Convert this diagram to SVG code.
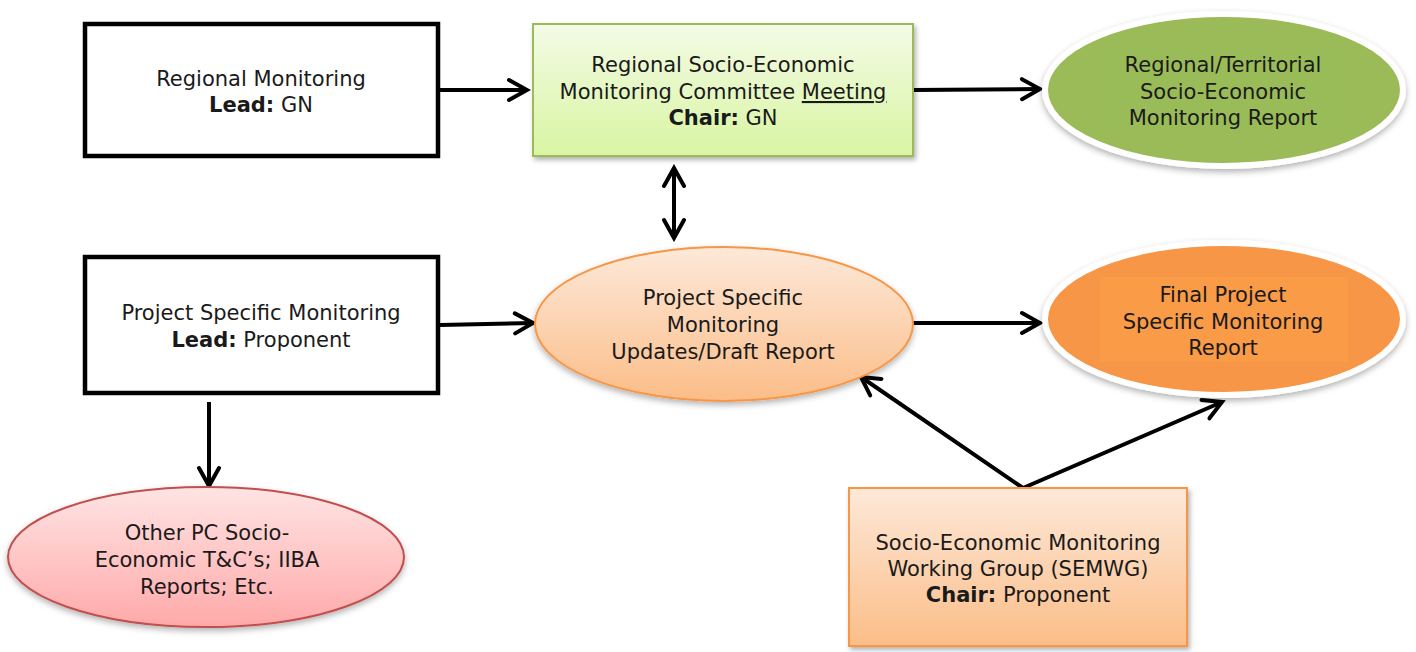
<svg xmlns="http://www.w3.org/2000/svg" width="1416" height="652" viewBox="0 0 1416 652">
<defs>
<style>
.t{font-family:"DejaVu Sans","Liberation Sans",sans-serif;font-size:21px;fill:#1a1a1a;text-anchor:middle}
.b{font-weight:bold}
.c{fill:none;stroke:#000;stroke-width:4}
.bx{fill:#fff;stroke:#000;stroke-width:4.5}
</style>
<linearGradient id="gGreen" x1="0" y1="0" x2="0" y2="1"><stop offset="0" stop-color="#f4fbe6"/><stop offset="1" stop-color="#d8f5a2"/></linearGradient>
<linearGradient id="gPeach" x1="0" y1="0" x2="0" y2="1"><stop offset="0" stop-color="#fde9d9"/><stop offset="1" stop-color="#fbbd88"/></linearGradient>
<linearGradient id="gPink" x1="0" y1="0" x2="0" y2="1"><stop offset="0" stop-color="#ffe4e4"/><stop offset="1" stop-color="#ffa9a9"/></linearGradient>
<filter id="sh" x="-10%" y="-10%" width="120%" height="130%"><feDropShadow dx="2" dy="3" stdDeviation="2.5" flood-color="#000" flood-opacity="0.3"/></filter>
<filter id="sh2" x="-10%" y="-15%" width="120%" height="135%"><feDropShadow dx="0" dy="3" stdDeviation="3" flood-color="#000" flood-opacity="0.3"/></filter>
<marker id="ar" viewBox="0 0 26 26" refX="22" refY="13" markerWidth="26" markerHeight="26" markerUnits="userSpaceOnUse" orient="auto-start-reverse">
<path d="M4,3 L22,13 L4,23" fill="none" stroke="#000" stroke-width="4" stroke-linecap="round" stroke-linejoin="miter"/>
</marker>
</defs>
<rect width="1416" height="652" fill="#fff"/>

<g id="connectors">
<line class="c" x1="440" y1="90" x2="527" y2="90" marker-end="url(#ar)"/>
<line class="c" x1="913" y1="90" x2="1040" y2="89" marker-end="url(#ar)"/>
<line class="c" x1="674" y1="168" x2="674" y2="238" marker-start="url(#ar)" marker-end="url(#ar)"/>
<line class="c" x1="440" y1="325" x2="533" y2="323" marker-end="url(#ar)"/>
<line class="c" x1="913" y1="323" x2="1040" y2="323" marker-end="url(#ar)"/>
<line class="c" x1="209" y1="402" x2="209" y2="486" marker-end="url(#ar)"/>
<polyline class="c" points="861,377 1023,488 1222,402" marker-start="url(#ar)" marker-end="url(#ar)"/>
</g>

<g id="regional-monitoring">
<rect class="bx" x="85" y="24" width="353" height="132"/>
<text class="t" x="261" y="86">Regional Monitoring</text>
<text class="t" x="261" y="112"><tspan class="b">Lead:</tspan> GN</text>
</g>

<g id="committee-meeting">
<rect x="533" y="24" width="380" height="132" fill="url(#gGreen)" stroke="#9bbb59" stroke-width="2" filter="url(#sh)"/>
<text class="t" x="723" y="72">Regional Socio-Economic</text>
<text class="t" x="723" y="99">Monitoring Committee <tspan text-decoration="underline">Meeting</tspan></text>
<text class="t" x="723" y="125"><tspan class="b">Chair:</tspan> GN</text>
</g>

<g id="regional-report">
<ellipse cx="1224" cy="90" rx="179" ry="76" fill="#9bbb59" stroke="#fff" stroke-width="6" filter="url(#sh2)"/>
<rect x="1100" y="47" width="248" height="83" fill="#9abd57" opacity="0.5"/>
<text class="t" x="1223" y="72">Regional/Territorial</text>
<text class="t" x="1223" y="99">Socio-Economic</text>
<text class="t" x="1223" y="125">Monitoring Report</text>
</g>

<g id="project-monitoring">
<rect class="bx" x="85" y="257" width="353" height="136"/>
<text class="t" x="261" y="320">Project Specific Monitoring</text>
<text class="t" x="261" y="347"><tspan class="b">Lead:</tspan> Proponent</text>
</g>

<g id="draft-report">
<ellipse cx="724" cy="324" rx="189" ry="77" fill="url(#gPeach)" stroke="#f79646" stroke-width="2" filter="url(#sh2)"/>
<text class="t" x="723" y="305">Project Specific</text>
<text class="t" x="723" y="332">Monitoring</text>
<text class="t" x="723" y="359">Updates/Draft Report</text>
</g>

<g id="final-report">
<ellipse cx="1224" cy="319" rx="179" ry="76" fill="#f79646" stroke="#fff" stroke-width="6" filter="url(#sh2)"/>
<rect x="1100" y="277" width="248" height="85" fill="#fa9c47" opacity="0.7"/>
<text class="t" x="1223" y="302">Final Project</text>
<text class="t" x="1223" y="329">Specific Monitoring</text>
<text class="t" x="1223" y="355">Report</text>
</g>

<g id="other-reports">
<ellipse cx="206" cy="557" rx="198" ry="70" fill="url(#gPink)" stroke="#c0504d" stroke-width="2" filter="url(#sh2)"/>
<text class="t" x="207" y="540">Other PC Socio-</text>
<text class="t" x="207" y="567">Economic T&amp;C’s; IIBA</text>
<text class="t" x="207" y="594">Reports; Etc.</text>
</g>

<g id="semwg">
<rect x="849" y="488" width="338" height="158" fill="url(#gPeach)" stroke="#f79646" stroke-width="2" filter="url(#sh)"/>
<text class="t" x="1018" y="550">Socio-Economic Monitoring</text>
<text class="t" x="1018" y="576">Working Group (SEMWG)</text>
<text class="t" x="1018" y="602"><tspan class="b">Chair:</tspan> Proponent</text>
</g>
</svg>
